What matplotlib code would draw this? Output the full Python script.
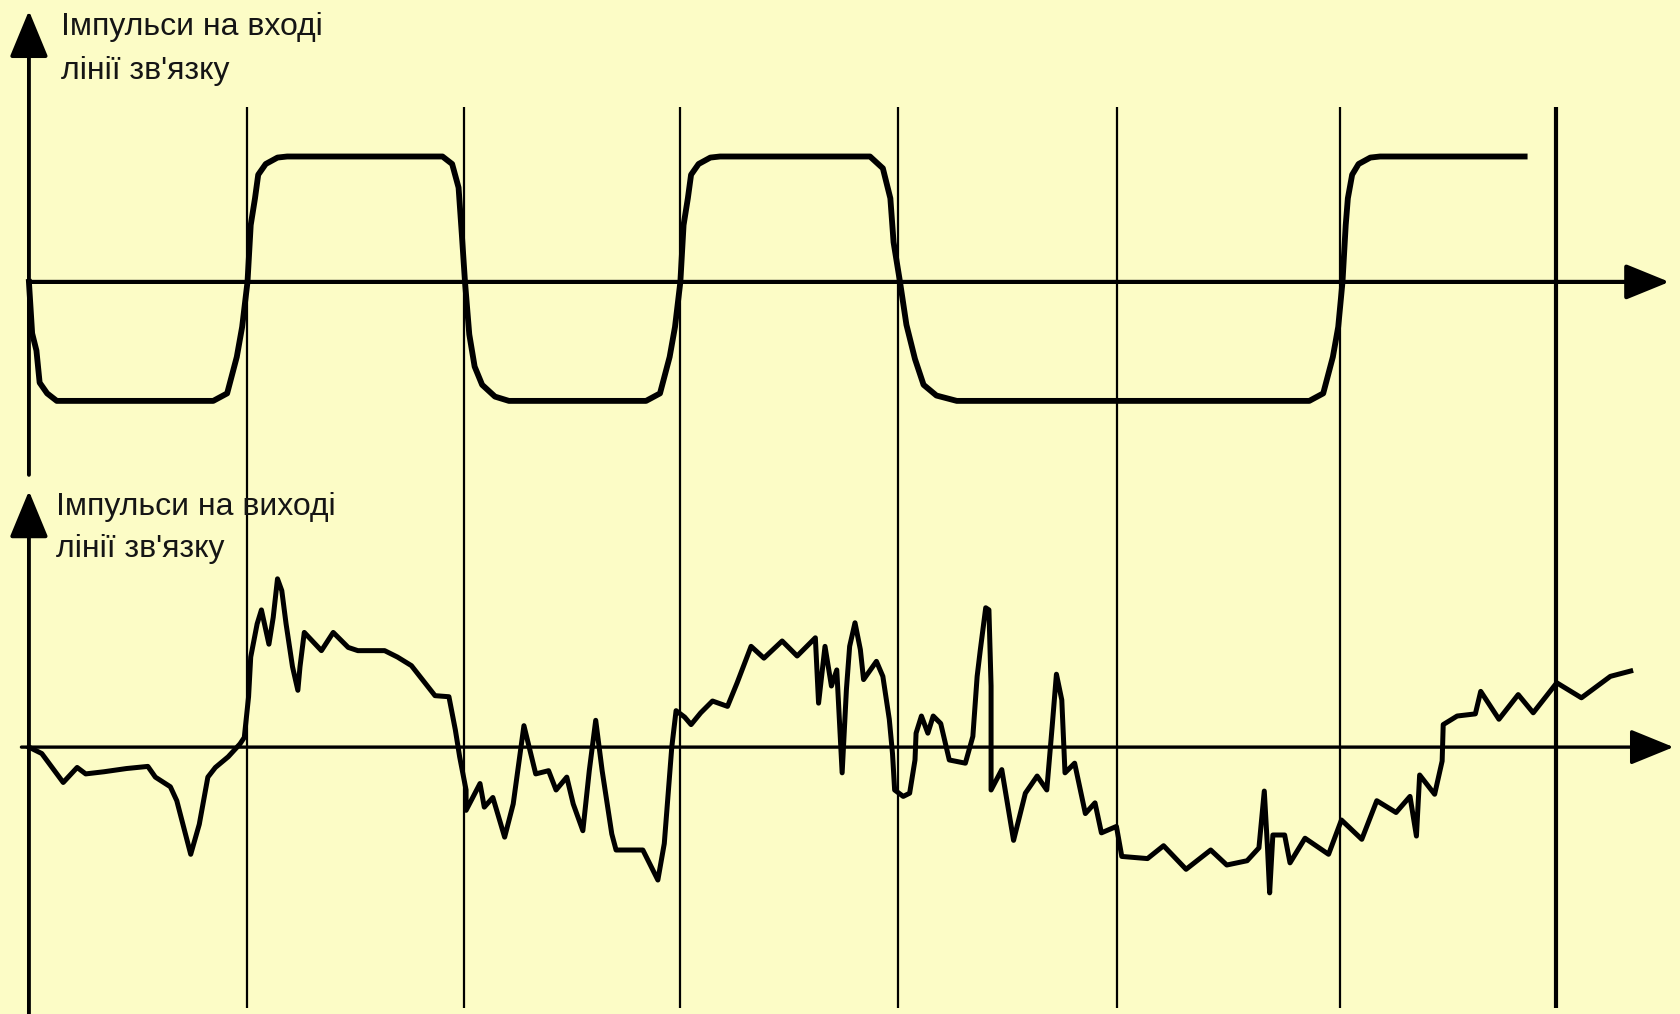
#!/usr/bin/env python3

#
# Input and output pulses of a communication line: a clean binary pulse train
# on top and the distorted, noisy signal received at the far end below.
#

import matplotlib
matplotlib.use('Agg')
import matplotlib.pyplot as plt

BG = '#fcfcc6'      # Paper colour of the scan.
INK = '#000000'

# Time in arbitrary units from the origin; one bit lasts about 204 units.
bit_edges = [204, 406, 608, 811, 1016, 1224, 1425]

# Input pulses (amplitude in arbitrary units, high ~ +117, low ~ -111).
in_t = [0, 3, 7, 10, 17, 26,
        172, 185, 194, 199, 204, 207, 211, 214, 221, 232, 241,
        386, 395, 401, 404, 407, 411, 416, 423, 435, 448,
        576, 589, 598, 603, 608, 611, 615, 618, 625, 636, 645,
        785, 797, 804, 807, 813, 819, 827, 835, 847, 866,
        1195, 1208, 1217, 1222, 1226, 1229, 1231, 1235, 1241, 1252, 1261,
        1396]
in_v = [0, -48, -64, -94, -104, -111,
        -111, -104, -70, -42, 0, 53, 78, 100, 110, 116, 117,
        117, 110, 88, 45, 0, -49, -79, -96, -107, -111,
        -111, -104, -70, -42, 0, 53, 78, 100, 110, 116, 117,
        117, 106, 78, 37, 0, -40, -72, -96, -106, -111,
        -111, -104, -70, -42, 0, 53, 78, 100, 110, 116, 117,
        117]

# Output pulses.
out_t = [0, 12, 32, 45, 53, 70, 91, 111, 118, 132, 138, 151, 159, 167, 174,
         186, 197, 201, 205, 207, 213, 217, 224, 228, 232, 236, 240, 246,
         251, 253, 257, 273, 284, 298, 307, 332, 344, 357, 379, 392, 398,
         402, 408, 408, 421, 425, 433, 444, 452, 462, 473, 485, 492, 502,
         508, 517, 523, 529, 535, 544, 548, 573, 587, 593, 600, 604, 612,
         618, 627, 638, 652, 661, 674, 686, 703, 717, 734, 737, 743, 749,
         754, 759, 763, 766, 771, 776, 779, 791, 797, 803, 806, 808, 816,
         822, 827, 828, 833, 839, 844, 851, 859, 874, 881, 885, 888, 893,
         896, 898, 898, 908, 919, 930, 941, 950, 955, 959, 964, 967, 976,
         986, 995, 1001, 1015, 1020, 1044, 1059, 1080, 1103, 1118, 1137,
         1148, 1153, 1156, 1158, 1161, 1172, 1177, 1191, 1213, 1225, 1244,
         1258, 1276, 1289, 1295, 1298, 1312, 1319, 1320, 1333, 1350, 1355,
         1372, 1390, 1404, 1426, 1449, 1476, 1495]
out_v = [0, -6, -33, -19, -25, -23, -20, -18, -28, -37, -50, -100, -72, -28,
         -19, -9, 3, 9, 47, 84, 115, 128, 96, 121, 157, 146, 115, 75,
         53, 75, 107, 90, 107, 93, 90, 90, 84, 76, 48, 47, 16,
         -9, -40, -59, -34, -56, -47, -84, -53, 20, -25, -22, -40, -28,
         -53, -78, -22, 25, -22, -81, -96, -96, -124, -90, 0, 34, 28,
         21, 32, 43, 38, 60, 94, 83, 99, 85, 102, 41, 94, 57,
         72, -24, 54, 94, 116, 91, 63, 80, 66, 26, -6, -40, -46,
         -43, -12, 13, 29, 13, 29, 22, -12, -15, 10, 66, 91, 130,
         128, 57, -40, -21, -87, -43, -27, -40, 19, 68, 44, -24, -15,
         -62, -52, -80, -74, -102, -104, -92, -114, -96, -110, -106,
         -94, -41, -94, -136, -82, -82, -108, -85, -100, -68, -86,
         -50, -61, -46, -83, -26, -44, -13, 21, 29, 31, 52,
         26, 49, 32, 60, 46, 66, 71]

fig = plt.figure(figsize=(16.8, 10.14), dpi=100, facecolor=BG)

# Upper panel holds the input pulses, lower panel the output pulses.
ax_in = fig.add_axes([0, 0.5243, 1, 0.4757])
ax_out = fig.add_axes([0, 0, 1, 0.5243])

for ax in (ax_in, ax_out):
	ax.set_facecolor(BG)
	ax.axis('off')
	ax.set_xlim(-27, 1541)

ax_in.set_ylim(-187, 263)
ax_out.set_ylim(-249, 247)

# Bit boundaries, running through both panels.
for i, e in enumerate(bit_edges):
	w = 3.0 if i == len(bit_edges) - 1 else 1.6
	ax_in.plot([e, e], [-187, 163], color=INK, lw=w, solid_capstyle='butt')
	ax_out.plot([e, e], [247, -243], color=INK, lw=w, solid_capstyle='butt')

# Axes with arrow heads.
def arrow(ax, start, tip, lw, hl, hw):
	ax.annotate('', xy=tip, xytext=start,
	            arrowprops=dict(arrowstyle='-|>,head_length=%g,head_width=%g' % (hl, hw),
	                            color=INK, lw=lw, shrinkA=0, shrinkB=0,
	                            mutation_scale=20))

arrow(ax_in, (0, -180), (0, 253), 2.8, 1.45, 0.6)
arrow(ax_in, (0, 0), (1531, 0), 3.0, 1.35, 0.55)
arrow(ax_out, (0, -249), (0, 239), 2.8, 1.45, 0.6)
arrow(ax_out, (-7, 0), (1535, 0), 2.4, 1.35, 0.55)

# Pulse traces.
ax_in.plot(in_t, in_v, color=INK, lw=4.2, solid_joinstyle='round')
ax_out.plot(out_t, out_v, color=INK, lw=3.6, solid_joinstyle='round')

# Labels.
ax_in.text(30, 252, "Імпульси на вході\nлінії зв'язку", ha='left', va='top',
           fontsize=23, family='Liberation Sans', color='#151515', linespacing=1.62)
ax_out.text(25, 238, "Імпульси на виході\nлінії зв'язку", ha='left', va='top',
            fontsize=23, family='Liberation Sans', color='#151515', linespacing=1.52)

fig.savefig('out.png', dpi=100, facecolor=BG)
